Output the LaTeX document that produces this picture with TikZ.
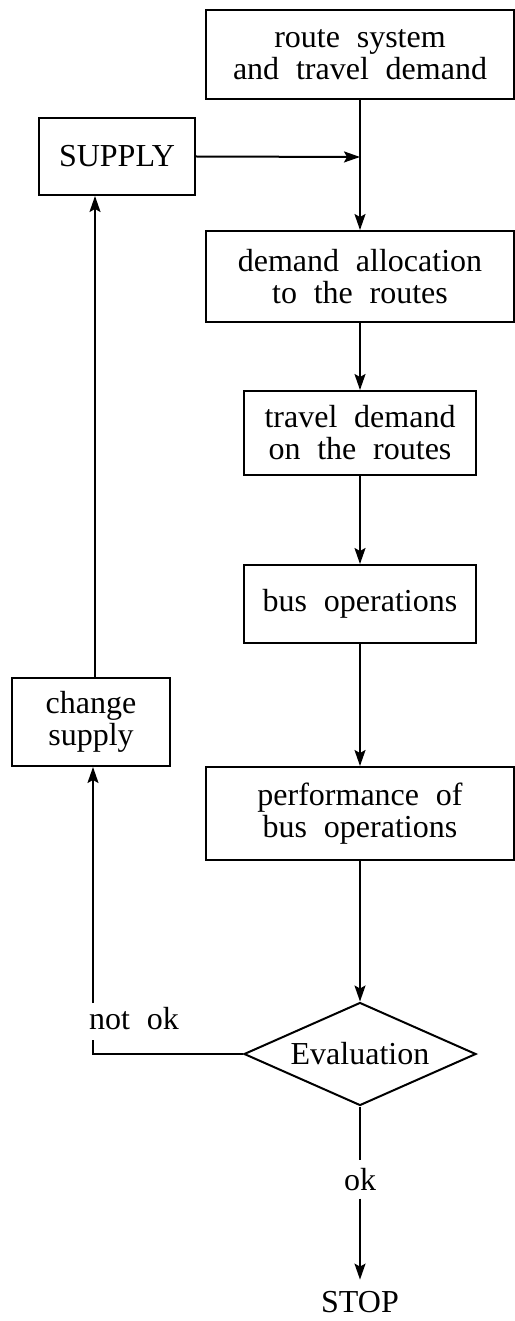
\documentclass[tikz,border=0pt]{standalone}
\usepackage{fontspec}
\setmainfont{Liberation Serif}[WordSpace=2.1]
\usetikzlibrary{arrows.meta,shapes.geometric}
\begin{document}
\begin{tikzpicture}[x=1pt,y=-1pt,
  txt/.style={font=\fontsize{32}{32}\selectfont},
  box/.style={txt,draw,line width=2pt,inner sep=0pt,align=center},
  lbl/.style={txt,inner sep=0pt},
  conn/.style={line width=2pt,-{Stealth[length=16pt,width=11pt,inset=3pt]}},
  plain/.style={line width=2pt}]
\useasboundingbox (0,0) rectangle (514,1321);

\node[box,minimum width=308,minimum height=89] (b1) at (360,54.5) {route system\\and travel demand};
\node[box,minimum width=156,minimum height=77] (sup) at (117,156.5) {SUPPLY};
\node[box,minimum width=308,minimum height=91] (b2) at (360,276.5) {demand allocation\\to the routes};
\node[box,minimum width=232,minimum height=84] (b3) at (360,433) {travel demand\\on the routes};
\node[box,minimum width=232,minimum height=78] (b4) at (360,604) {bus operations};
\node[box,minimum width=158,minimum height=88] (chg) at (91,722) {change\\supply};
\node[box,minimum width=308,minimum height=93] (b5) at (360,813.5) {performance of\\bus operations};
\node[txt,draw,line width=2pt,shape=diamond,aspect=2.25,inner sep=0pt,minimum width=232,minimum height=103] (ev) at (360,1054) {Evaluation};

\node[lbl,anchor=base west] (nok) at (89,1029) {not ok};
\node[lbl,anchor=base,inner sep=8pt] (ok) at (360,1190) {ok};
\node[lbl,anchor=base,inner xsep=0pt,inner ysep=11pt] (stop) at (360,1312) {STOP};

\coordinate (j) at (360,157);
\coordinate (lx) at (95,0);
\coordinate (c2) at (93,1040);
\coordinate (c3) at (93,1003);

\draw[conn] (b1.south) -- (b2.north);
\draw[conn] (sup.east) -- (j);
\draw[conn] (b2.south) -- (b3.north);
\draw[conn] (b3.south) -- (b4.north);
\draw[conn] (b4.south) -- (b5.north);
\draw[conn] (b5.south) -- (ev.north);
\draw[conn] (chg.north -| lx) -- (sup.south -| lx);
\draw[plain] (ev.west) -| (c2);
\draw[conn] (c3) -- (chg.south -| c3);
\draw[plain] (ev.south) -- (ok.north);
\draw[conn] (ok.south) -- (stop.north);
\end{tikzpicture}
\end{document}
